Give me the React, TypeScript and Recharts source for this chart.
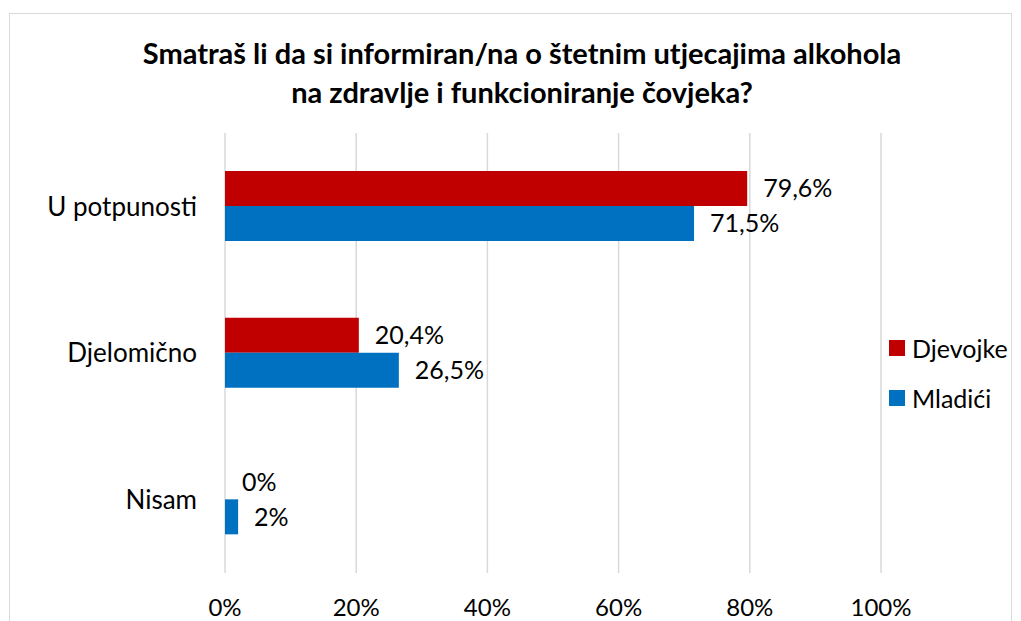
import React from "react";
import { BarChart, Bar, XAxis, YAxis, CartesianGrid, Legend, LabelList, Cell } from "recharts";

const categories = ["U potpunosti", "Djelomično", "Nisam"];
const djevojke = [79.6, 20.4, 0];
const mladici = [71.5, 26.5, 2];
const xTicks = [0, 20, 40, 60, 80, 100];

const data = categories.map((name, i) => ({ name, djevojke: djevojke[i], mladici: mladici[i] }));

const FONT = "Lato, 'Open Sans', sans-serif";
const fmt = (v: number) => `${String(v).replace(".", ",")}%`;

// value label drawn to the right of each bar (also for zero-length bars)
function ValueLabel(props: any) {
  const { x, y, width, height, value } = props;
  return (
    <text x={x + width + 16} y={y + height / 2} dy="0.35em" fill="#000" fontSize={25} fontFamily={FONT}>
      {fmt(value)}
    </text>
  );
}

function LegendBox(props: any) {
  const items = props.payload || [];
  return (
    <div style={{ fontFamily: FONT, fontSize: 25, color: "#000" }}>
      {items.map((p: any) => (
        <div key={p.value} style={{ display: "flex", alignItems: "center", height: 50 }}>
          <span style={{ width: 16, height: 16, background: p.color, marginRight: 7, display: "inline-block" }} />
          <span>{p.value}</span>
        </div>
      ))}
    </div>
  );
}

export default function App() {
  return (
    <div style={{ position: "fixed", left: 0, top: 0, width: 1021, height: 621, background: "#fff", overflow: "hidden" }}>
      <div style={{ position: "absolute", left: 9, top: 13, width: 1001, height: 700, border: "1px solid #d9d9d9" }} />
      <div
        style={{
          position: "absolute",
          left: 0,
          top: 33,
          width: 1044,
          textAlign: "center",
          fontFamily: FONT,
          fontWeight: 700,
          fontSize: 29,
          lineHeight: "39px",
          color: "#000",
        }}
      >
        Smatraš li da si informiran/na o štetnim utjecajima alkohola
        <br />
        na zdravlje i funkcioniranje čovjeka?
      </div>
      <div style={{ position: "absolute", left: 0, top: 0 }}>
        <BarChart
          width={1021}
          height={621}
          data={data}
          layout="vertical"
          margin={{ top: 133, right: 140, bottom: 0, left: 0 }}
          barGap={0}
          barSize={35}
        >
          <CartesianGrid horizontal={false} stroke="#d9d9d9" strokeWidth={1.5} />
          <XAxis
            type="number"
            domain={[0, 100]}
            ticks={xTicks}
            tickFormatter={(v) => `${v}%`}
            axisLine={false}
            tickLine={false}
            tickSize={0}
            tickMargin={26}
            height={48}
            tick={{ fill: "#000", fontSize: 24, fontFamily: FONT }}
          />
          <YAxis
            type="category"
            dataKey="name"
            width={225}
            axisLine={false}
            tickLine={false}
            tickSize={0}
            tickMargin={28}
            tick={{ fill: "#000", fontSize: 26, fontFamily: FONT }}
          />
          <Legend
            layout="horizontal"
            verticalAlign="middle"
            align="center"
            content={<LegendBox />}
            wrapperStyle={{ left: 889, top: 323, width: 125 }}
          />
          <Bar dataKey="djevojke" name="Djevojke" fill="#c00000" minPointSize={1} isAnimationActive={false}>
            {djevojke.map((v, i) => (
              <Cell key={i} fill={v === 0 ? "transparent" : "#c00000"} />
            ))}
            <LabelList dataKey="djevojke" content={<ValueLabel />} />
          </Bar>
          <Bar dataKey="mladici" name="Mladići" fill="#0070c0" isAnimationActive={false}>
            <LabelList dataKey="mladici" content={<ValueLabel />} />
          </Bar>
        </BarChart>
      </div>
    </div>
  );
}
